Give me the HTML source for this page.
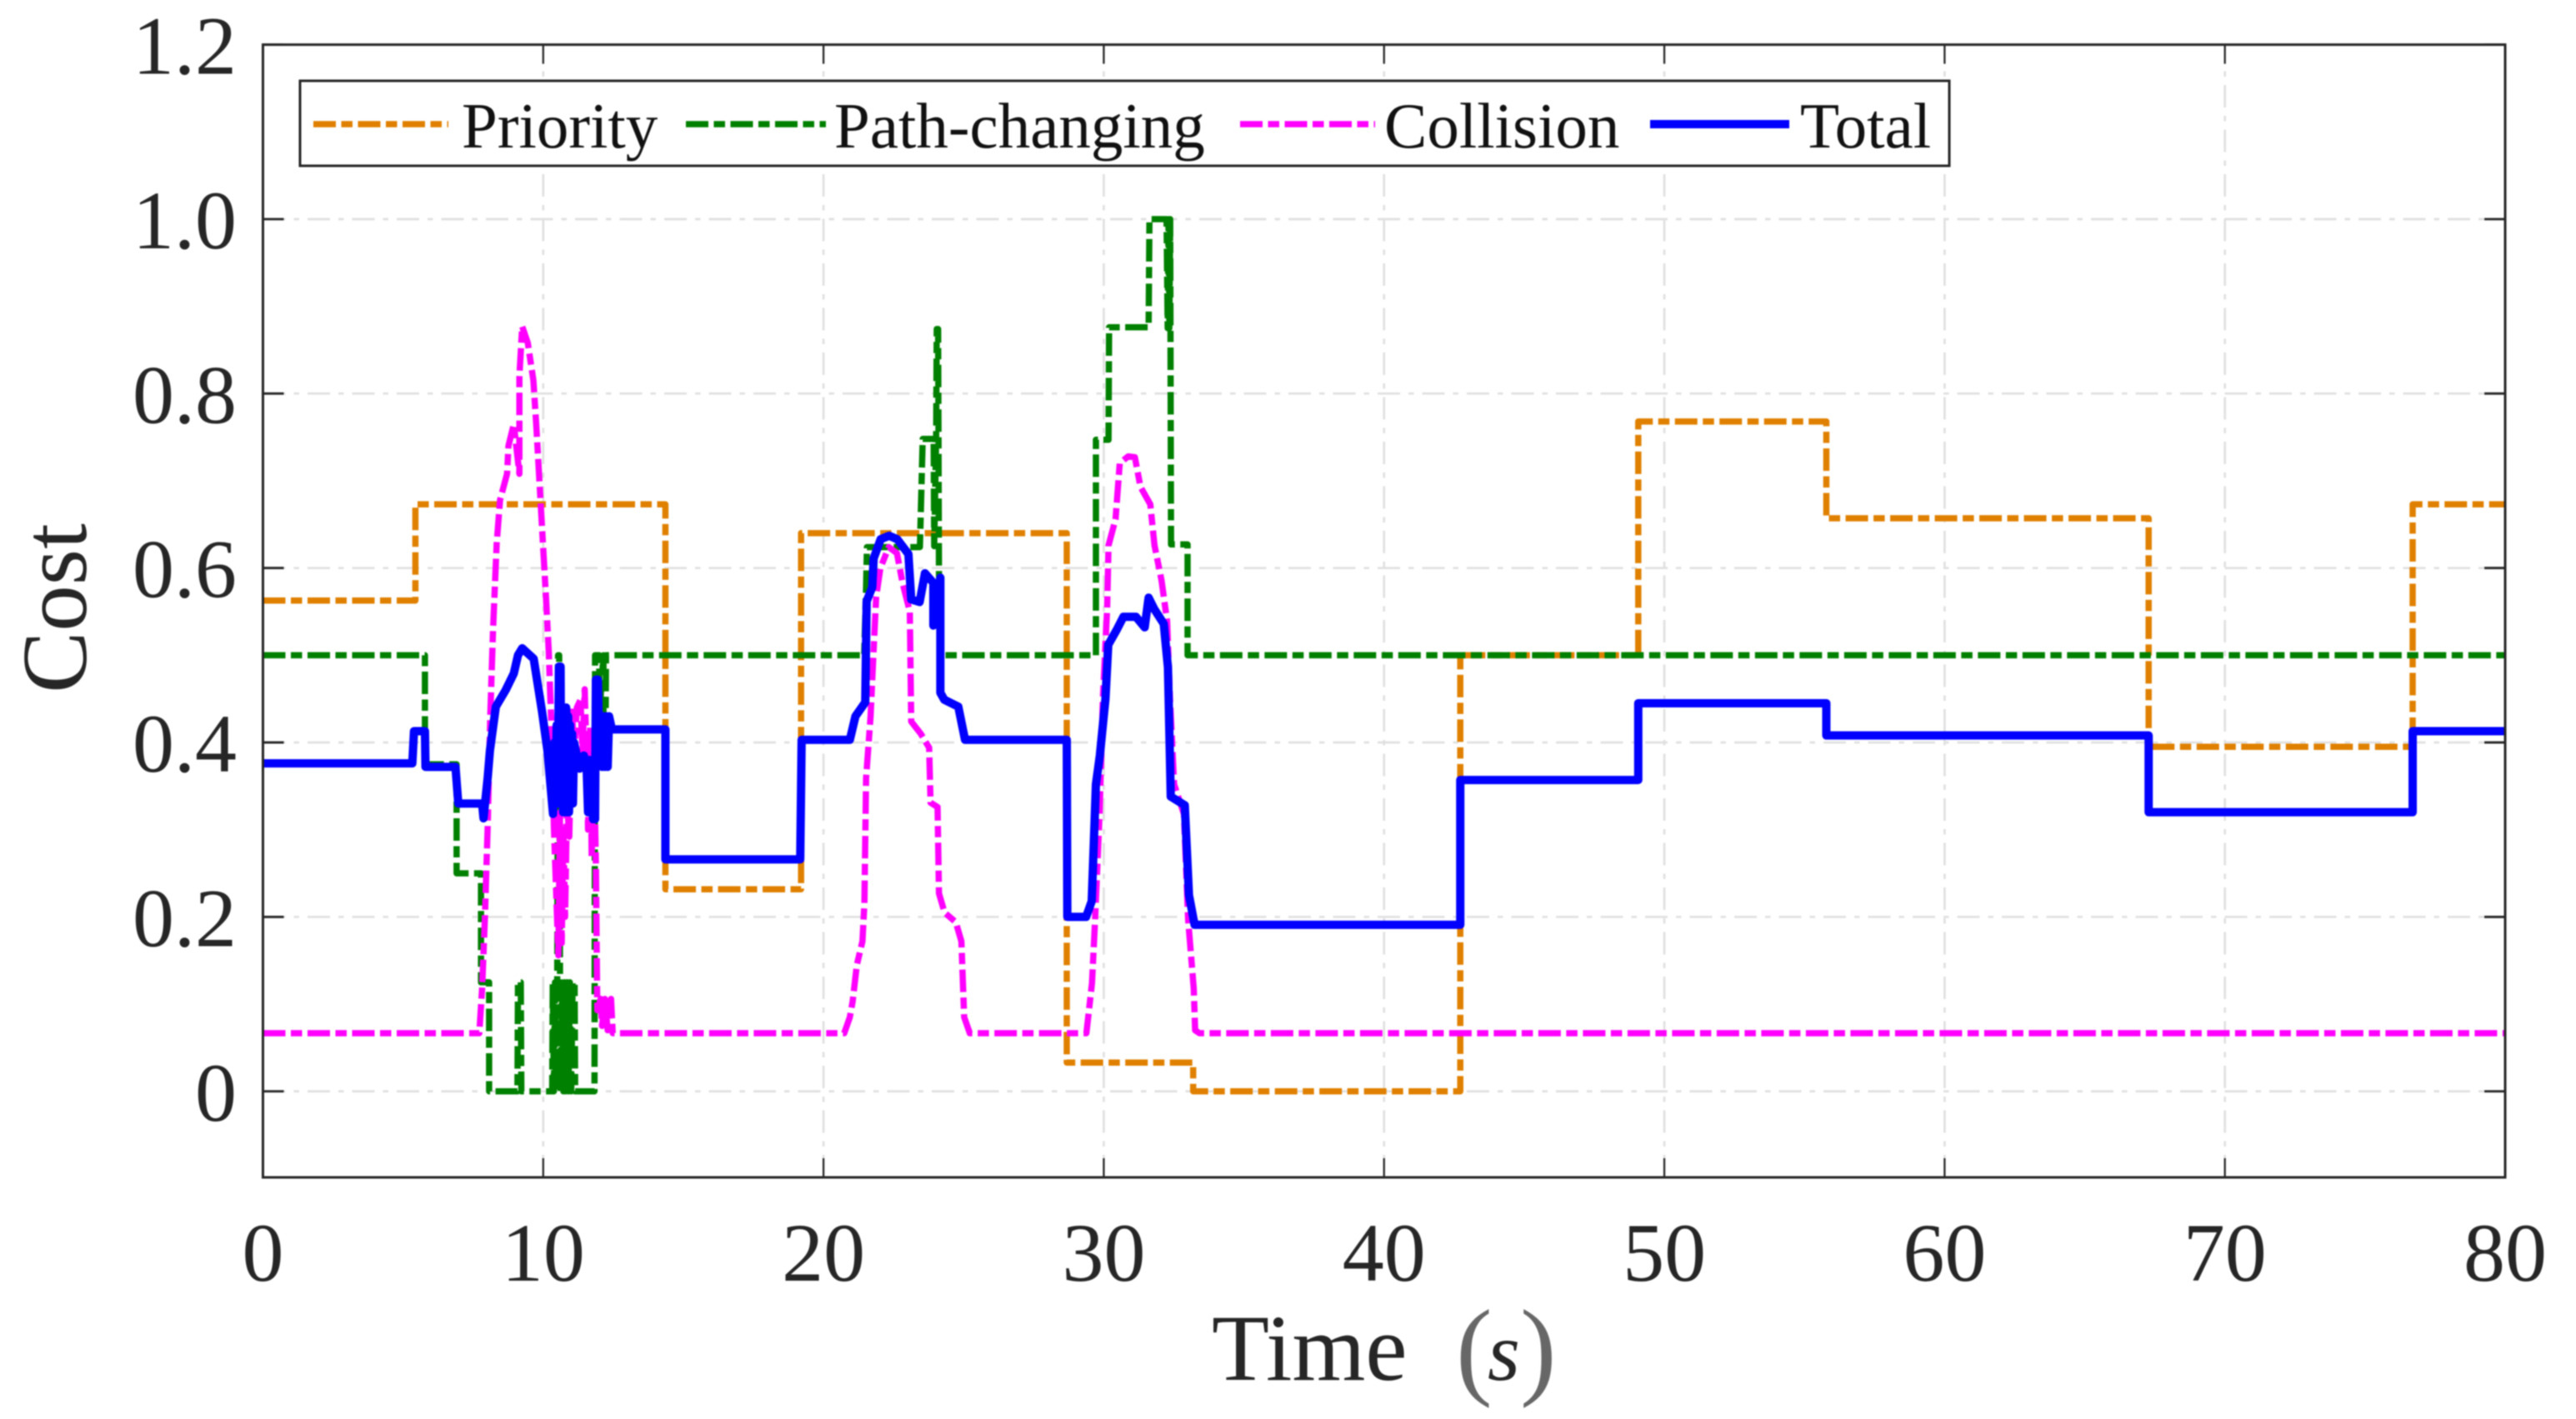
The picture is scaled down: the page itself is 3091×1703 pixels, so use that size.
<!DOCTYPE html>
<html lang="en">
<head>
<meta charset="utf-8">
<title>Cost over time</title>
<style>
  html, body { margin: 0; padding: 0; background: #ffffff; }
  body { width: 3091px; height: 1703px; overflow: hidden; }
  #chart { display: block; filter: blur(0.7px); font-family: "Liberation Serif", serif; }
</style>
</head>
<body>
<svg id="chart" width="3091" height="1703" viewBox="0 0 3091 1703" xmlns="http://www.w3.org/2000/svg">
  <rect x="0" y="0" width="3091" height="1703" fill="#ffffff"/>
  <g id="grid"></g>
  <g id="series"></g>
  <g id="axes"></g>
  <g id="legend"></g>
  <text y="1656" font-size="113" fill="#262626"><tspan x="1454">Time</tspan><tspan x="1747" y="1662" font-size="131" fill-opacity="0.7">(</tspan><tspan x="1785" y="1656" font-size="100" font-style="italic">s</tspan><tspan x="1824" y="1662" font-size="131" fill-opacity="0.7">)</tspan></text>
  <text transform="translate(103,730) rotate(-90)" text-anchor="middle" font-size="111" fill="#262626">Cost</text>
</svg>
<script>
const xTicks = [0, 10, 20, 30, 40, 50, 60, 70, 80];
const yTicks = [0, 0.2, 0.4, 0.6, 0.8, 1.0, 1.2];
const yTickLabels = ['0', '0.2', '0.4', '0.6', '0.8', '1.0', '1.2'];
const legendLabels = ['Priority', 'Path-changing', 'Collision', 'Total'];

const priorityTime = [0, 5.44, 5.44, 14.36, 14.36, 19.2, 19.2, 28.68, 28.68, 33.19, 33.19, 42.72, 42.72, 49.07, 49.07, 55.78, 55.78, 67.28, 67.28, 76.7, 76.7, 80];
const priorityCost = [0.5627, 0.5627, 0.673, 0.673, 0.2317, 0.2317, 0.64, 0.64, 0.033, 0.033, 0, 0, 0.5, 0.5, 0.768, 0.768, 0.657, 0.657, 0.395, 0.395, 0.673, 0.673];

const pathTime = [0, 5.78, 5.78, 6.91, 6.91, 7.78, 7.78, 8.07, 8.07, 9.08, 9.1, 9.2, 9.22, 10.32, 10.34, 10.38, 10.42, 10.45, 10.5, 10.53, 10.57, 10.6, 10.62, 10.68, 10.72, 10.76, 10.8, 10.85, 10.9, 10.95, 11.0, 11.05, 11.12, 11.14, 11.83, 11.85, 12.0, 12.0, 12.15, 12.15, 12.22, 12.24, 21.45, 21.52, 21.55, 23.12, 23.44, 23.54, 23.93, 23.95, 24.02, 24.04, 24.09, 24.12, 24.18, 29.72, 29.72, 30.17, 30.19, 31.6, 31.63, 32.24, 32.28, 32.31, 32.34, 32.37, 32.4, 32.69, 32.99, 32.99, 80];
const pathCost = [0.5, 0.5, 0.375, 0.375, 0.25, 0.25, 0.125, 0.125, 0, 0, 0.125, 0.125, 0, 0, 0.125, 0, 0.125, 0, 0.125, 0.5, 0.5, 0.125, 0, 0.125, 0, 0.125, 0, 0.125, 0, 0.125, 0, 0.125, 0.125, 0, 0, 0.5, 0.5, 0.43, 0.5, 0.38, 0.38, 0.5, 0.5, 0.578, 0.624, 0.624, 0.624, 0.748, 0.748, 0.625, 0.75, 0.874, 0.874, 0.594, 0.5, 0.5, 0.747, 0.747, 0.876, 0.876, 1.0, 1.0, 0.875, 1.0, 0.875, 1.0, 0.627, 0.627, 0.627, 0.5, 0.5];

const collisionTime = [0, 7.72, 7.82, 7.92, 8.02, 8.11, 8.21, 8.34, 8.46, 8.71, 8.76, 8.95, 9.15, 9.15, 9.25, 9.45, 9.65, 9.75, 9.85, 9.99, 10.1, 10.2, 10.25, 10.32, 10.38, 10.54, 10.6, 10.66, 10.72, 10.78, 10.85, 10.93, 11.03, 11.1, 11.2, 11.33, 11.4, 11.48, 11.55, 11.6, 11.68, 11.73, 11.8, 11.88, 11.93, 12.05, 12.1, 12.2, 12.3, 12.42, 12.48, 20.74, 20.94, 21.04, 21.19, 21.39, 21.46, 21.52, 21.68, 21.78, 21.88, 22.03, 22.33, 22.62, 22.82, 23.08, 23.13, 23.47, 23.77, 23.82, 24.07, 24.12, 24.32, 24.72, 24.92, 25.02, 25.22, 29.38, 29.58, 29.68, 29.85, 29.97, 30.12, 30.17, 30.42, 30.57, 30.87, 31.11, 31.31, 31.66, 31.81, 32.06, 32.26, 32.36, 32.51, 32.86, 33.01, 33.21, 33.26, 33.41, 80];
const collisionCost = [0.0667, 0.0667, 0.118, 0.199, 0.305, 0.429, 0.529, 0.628, 0.678, 0.708, 0.74, 0.765, 0.708, 0.82, 0.877, 0.858, 0.815, 0.765, 0.708, 0.628, 0.566, 0.503, 0.455, 0.398, 0.305, 0.156, 0.32, 0.17, 0.3, 0.2, 0.33, 0.292, 0.44, 0.38, 0.44, 0.449, 0.39, 0.461, 0.38, 0.3, 0.42, 0.267, 0.4, 0.26, 0.093, 0.106, 0.075, 0.106, 0.07, 0.106, 0.0667, 0.0667, 0.085, 0.103, 0.145, 0.172, 0.216, 0.359, 0.43, 0.5, 0.567, 0.6, 0.624, 0.617, 0.583, 0.55, 0.424, 0.41, 0.394, 0.331, 0.326, 0.227, 0.205, 0.194, 0.172, 0.085, 0.0667, 0.0667, 0.124, 0.19, 0.318, 0.452, 0.553, 0.626, 0.656, 0.72, 0.728, 0.727, 0.693, 0.673, 0.626, 0.586, 0.539, 0.452, 0.352, 0.318, 0.197, 0.118, 0.07, 0.0667, 0.0667];

const totalTime = [0, 5.33, 5.39, 5.78, 5.8, 6.87, 6.97, 7.82, 7.87, 8.02, 8.1, 8.31, 8.66, 8.95, 9.1, 9.25, 9.66, 9.96, 10.15, 10.35, 10.4, 10.44, 10.48, 10.52, 10.56, 10.62, 10.64, 10.68, 10.71, 10.75, 10.78, 10.82, 10.85, 10.89, 10.92, 10.96, 11.0, 11.03, 11.06, 11.1, 11.3, 11.45, 11.55, 11.6, 11.65, 11.7, 11.75, 11.78, 11.85, 11.88, 11.95, 12.0, 12.05, 12.1, 12.15, 12.2, 12.25, 12.3, 12.35, 12.45, 14.36, 14.36, 19.17, 19.22, 20.94, 21.14, 21.49, 21.54, 21.74, 21.79, 22.04, 22.34, 22.63, 23.03, 23.13, 23.43, 23.62, 23.92, 23.92, 24.17, 24.17, 24.31, 24.81, 25.05, 28.68, 28.7, 29.37, 29.57, 29.72, 29.86, 30.06, 30.16, 30.46, 30.7, 31.15, 31.46, 31.6, 31.8, 32.14, 32.29, 32.39, 32.89, 33.04, 33.24, 42.72, 42.72, 49.07, 49.07, 55.78, 55.78, 67.28, 67.28, 76.7, 76.7, 80];
const totalCost = [0.376, 0.376, 0.413, 0.413, 0.372, 0.372, 0.33, 0.33, 0.313, 0.36, 0.391, 0.441, 0.46, 0.479, 0.5, 0.508, 0.496, 0.435, 0.391, 0.318, 0.4, 0.33, 0.42, 0.33, 0.487, 0.487, 0.33, 0.42, 0.32, 0.43, 0.32, 0.44, 0.32, 0.43, 0.32, 0.42, 0.33, 0.41, 0.33, 0.4, 0.37, 0.385, 0.37, 0.32, 0.38, 0.32, 0.38, 0.312, 0.312, 0.472, 0.472, 0.39, 0.43, 0.372, 0.43, 0.372, 0.43, 0.372, 0.43, 0.415, 0.415, 0.266, 0.266, 0.403, 0.403, 0.43, 0.446, 0.562, 0.578, 0.611, 0.633, 0.637, 0.633, 0.616, 0.564, 0.561, 0.594, 0.583, 0.534, 0.589, 0.457, 0.449, 0.441, 0.403, 0.403, 0.2, 0.2, 0.218, 0.352, 0.385, 0.45, 0.512, 0.529, 0.544, 0.544, 0.532, 0.566, 0.553, 0.536, 0.486, 0.338, 0.328, 0.225, 0.191, 0.191, 0.357, 0.357, 0.445, 0.445, 0.408, 0.408, 0.32, 0.32, 0.413, 0.413];

const NS = 'http://www.w3.org/2000/svg';
const xMin = 0, xMax = 80, yMin = -0.0986, yMax = 1.2;
const plotLeft = 315.5, plotRight = 3006, plotTop = 53.6, plotBottom = 1413;
const dashDot = '27 6.5 13.5 6.5';
const gridDash = '27 10 6.5 10';
const axisColor = '#262626';

function xPos(t) { return plotLeft + (t - xMin) / (xMax - xMin) * (plotRight - plotLeft); }
function yPos(v) { return plotBottom - (v - yMin) / (yMax - yMin) * (plotBottom - plotTop); }

function makeLine(x1, y1, x2, y2, stroke, width, dash) {
  const el = document.createElementNS(NS, 'line');
  el.setAttribute('x1', x1);
  el.setAttribute('y1', y1);
  el.setAttribute('x2', x2);
  el.setAttribute('y2', y2);
  el.setAttribute('stroke', stroke);
  el.setAttribute('stroke-width', width);
  if (dash) el.setAttribute('stroke-dasharray', dash);
  return el;
}

const gridG = document.getElementById('grid');
const axesG = document.getElementById('axes');
const seriesG = document.getElementById('series');
const legendG = document.getElementById('legend');

xTicks.forEach(function (t) {
  const px = xPos(t);
  if (t !== xMin && t !== xMax) {
    const g = makeLine(px, plotBottom, px, plotTop, '#e0e0e0', 2.7, gridDash);
    
    
    gridG.appendChild(g);
  }
  [[plotBottom, plotBottom - 23], [plotTop, plotTop + 23]].forEach(function (p) {
    const tick = makeLine(px, p[0], px, p[1], axisColor, 2.2);
    
    
    axesG.appendChild(tick);
  });
  const label = document.createElementNS(NS, 'text');
  
  
  label.setAttribute('x', px);
  label.setAttribute('y', 1537);
  label.setAttribute('text-anchor', 'middle');
  label.setAttribute('font-size', '100');
  label.setAttribute('fill', axisColor);
  label.textContent = String(t);
  axesG.appendChild(label);
});

yTicks.forEach(function (v, i) {
  const py = yPos(v);
  if (v !== yMax) {
    const g = makeLine(plotLeft, py, plotRight, py, '#e0e0e0', 2.7, gridDash);
    
    
    gridG.appendChild(g);
  }
  [[plotLeft, plotLeft + 25], [plotRight, plotRight - 25]].forEach(function (p) {
    const tick = makeLine(p[0], py, p[1], py, axisColor, 2.8);
    
    
    axesG.appendChild(tick);
  });
  const label = document.createElementNS(NS, 'text');
  
  
  label.setAttribute('x', 284);
  label.setAttribute('y', py + 35);
  label.setAttribute('text-anchor', 'end');
  label.setAttribute('font-size', '100');
  label.setAttribute('fill', axisColor);
  label.textContent = yTickLabels[i];
  axesG.appendChild(label);
});

function drawSeries(times, costs, color, width, dash, name) {
  const el = document.createElementNS(NS, 'polyline');
  
  
  el.setAttribute('points', times.map(function (t, i) { return xPos(t).toFixed(2) + ',' + yPos(costs[i]).toFixed(2); }).join(' '));
  el.setAttribute('fill', 'none');
  el.setAttribute('stroke', color);
  el.setAttribute('stroke-width', width);
  el.setAttribute('stroke-linejoin', 'round');
  if (dash) el.setAttribute('stroke-dasharray', dash);
  seriesG.appendChild(el);
}
drawSeries(priorityTime, priorityCost, '#e08000', 7.5, dashDot, 'priority-line');
drawSeries(pathTime, pathCost, '#008000', 7.5, dashDot, 'path-changing-line');
drawSeries(collisionTime, collisionCost, '#ff00ff', 7.5, dashDot, 'collision-line');
drawSeries(totalTime, totalCost, '#0000ff', 10, '', 'total-line');

const frame = document.createElementNS(NS, 'rect');


frame.setAttribute('x', plotLeft);
frame.setAttribute('y', plotTop);
frame.setAttribute('width', plotRight - plotLeft);
frame.setAttribute('height', plotBottom - plotTop);
frame.setAttribute('fill', 'none');
frame.setAttribute('stroke', axisColor);
frame.setAttribute('stroke-width', '3');
axesG.appendChild(frame);

const legendBox = document.createElementNS(NS, 'rect');


legendBox.setAttribute('x', 360);
legendBox.setAttribute('y', 97);
legendBox.setAttribute('width', 1979);
legendBox.setAttribute('height', 102);
legendBox.setAttribute('fill', '#ffffff');
legendBox.setAttribute('stroke', axisColor);
legendBox.setAttribute('stroke-width', '3');
legendG.appendChild(legendBox);

const legendColors = ['#e08000', '#008000', '#ff00ff', '#0000ff'];
const legendLineStart = [376, 823, 1488, 1980];
const legendLineEnd = [538, 991, 1650, 2147];
const legendTextStart = [554, 1001, 1661, 2160];
legendLabels.forEach(function (name, i) {
  const sample = makeLine(legendLineStart[i], 149, legendLineEnd[i], 149, legendColors[i], i === 3 ? 10 : 7.5, i === 3 ? '' : dashDot);
  
  
  legendG.appendChild(sample);
  const text = document.createElementNS(NS, 'text');
  
  
  text.setAttribute('x', legendTextStart[i]);
  text.setAttribute('y', 177);
  text.setAttribute('font-size', '77');
  text.setAttribute('fill', '#111111');
  text.textContent = name;
  legendG.appendChild(text);
});
</script>
</body>
</html>
